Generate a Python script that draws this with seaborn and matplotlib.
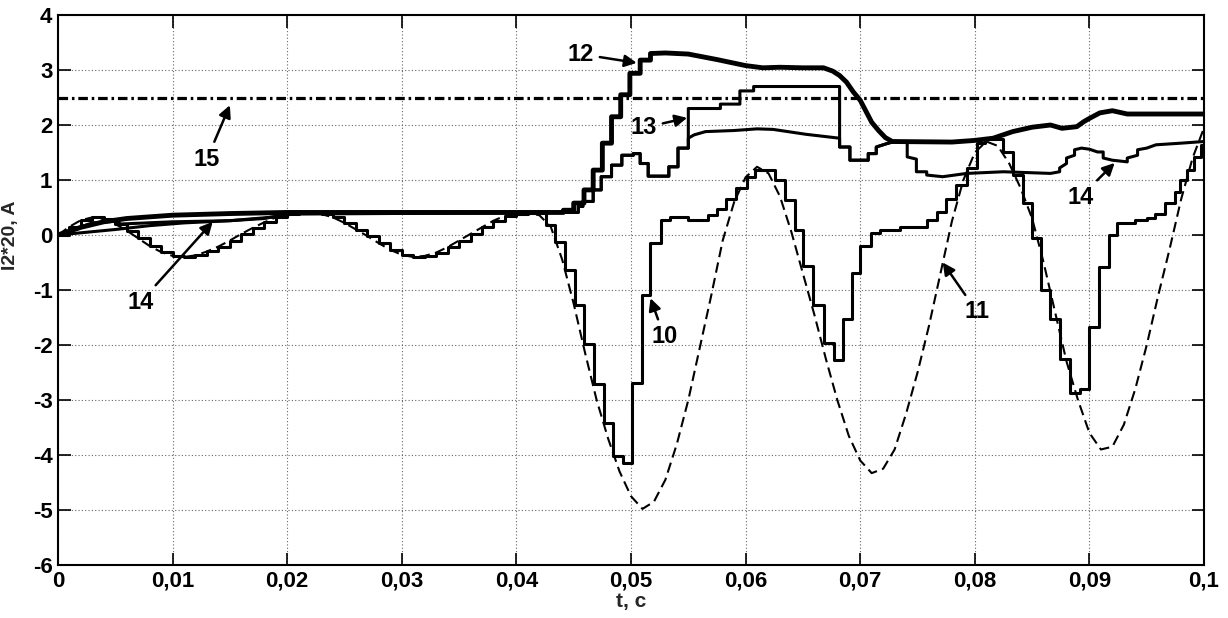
import numpy as np
import seaborn as sns
import matplotlib.pyplot as plt

sns.set_theme(style='ticks')
plt.rcParams['font.family'] = ['Liberation Sans', 'DejaVu Sans']
plt.rcParams['axes.unicode_minus'] = False

# curve 11 (dashed), sampled every 1 ms
t11 = np.linspace(0, 0.1, 101)
y11 = [0.00, 0.15, 0.27, 0.32, 0.29, 0.20, 0.08, -0.06, -0.20, -0.31,
       -0.38, -0.40, -0.37, -0.30, -0.21, -0.10, 0.02, 0.13, 0.23, 0.32,
       0.38, 0.40, 0.40, 0.38, 0.32, 0.22, 0.10, -0.02, -0.15, -0.27,
       -0.36, -0.40, -0.38, -0.32, -0.22, -0.10, 0.02, 0.14, 0.26, 0.35,
       0.39, 0.40, 0.36, 0.15, -0.45, -1.25, -2.15, -3.00, -3.70, -4.30,
       -4.75, -4.98, -4.85, -4.45, -3.80, -3.00, -2.05, -1.10, -0.10, 0.60,
       1.05, 1.24, 1.12, 0.70, 0.05, -0.70, -1.45, -2.25, -3.00, -3.65,
       -4.10, -4.33, -4.25, -3.90, -3.25, -2.50, -1.65, -0.70, 0.25, 1.00,
       1.50, 1.70, 1.62, 1.30, 0.85, 0.30, -0.50, -1.40, -2.30, -3.00,
       -3.60, -3.90, -3.85, -3.45, -2.80, -2.00, -1.10, -0.25, 0.65, 1.40,
       1.95]

# curve 10 (staircase) after it leaves curve 11
t10_late = [0.0419, 0.0426, 0.0434, 0.0442, 0.0451, 0.0459, 0.0468, 0.0476, 0.0484, 0.0493,
            0.0501, 0.0510, 0.0517, 0.0526, 0.0534, 0.0550, 0.0567, 0.0575, 0.0583, 0.0592,
            0.0601, 0.0608, 0.0626, 0.0634, 0.0643, 0.0650, 0.0659, 0.0668, 0.0677, 0.0685,
            0.0693, 0.0700, 0.0709, 0.0717, 0.0735, 0.0758, 0.0767, 0.0775, 0.0784, 0.0793,
            0.0802, 0.0809, 0.0825, 0.0833, 0.0842, 0.0850, 0.0858, 0.0866, 0.0874, 0.0883,
            0.0892, 0.0900, 0.0908, 0.0917, 0.0924, 0.0940, 0.0950, 0.0957, 0.0966, 0.0975,
            0.0979, 0.0985, 0.0991, 0.0997, 0.1000]
y10_late = [0.40, 0.18, -0.12, -0.64, -1.27, -1.98, -2.71, -3.42, -4.02, -4.15,
            -2.70, -1.09, -0.14, 0.27, 0.32, 0.28, 0.36, 0.47, 0.65, 0.85,
            1.06, 1.18, 1.00, 0.64, 0.09, -0.56, -1.27, -1.97, -2.27, -1.53,
            -0.70, -0.20, 0.03, 0.09, 0.15, 0.27, 0.42, 0.65, 0.91, 1.21,
            1.67, 1.74, 1.51, 1.09, 0.58, -0.06, -1.00, -1.53, -2.26, -2.88,
            -2.80, -1.67, -0.58, 0.00, 0.21, 0.27, 0.31, 0.39, 0.58, 0.79,
            1.00, 1.18, 1.42, 1.64, 1.70]

# curve 12 (thick)
t12 = [0, 0.002, 0.004, 0.006, 0.010, 0.015, 0.020, 0.0441,
       0.0441, 0.0450, 0.0450, 0.0459, 0.0459, 0.0467, 0.0467, 0.0475, 0.0475, 0.0483,
       0.0483, 0.0491, 0.0491, 0.0499, 0.0499, 0.0508, 0.0508, 0.0517, 0.0517,
       0.0530, 0.0550, 0.0575, 0.0600, 0.0615, 0.0630, 0.0650, 0.0668, 0.0676,
       0.0682, 0.0688, 0.0694, 0.0700, 0.0705, 0.0710, 0.0716, 0.0722, 0.0728,
       0.0780, 0.0800, 0.0816, 0.0833, 0.0850, 0.0866, 0.0876, 0.0889, 0.0895,
       0.0900, 0.0909, 0.0920, 0.0933, 0.1000]
y12 = [0, 0.14, 0.24, 0.30, 0.36, 0.39, 0.41, 0.41,
       0.45, 0.45, 0.58, 0.58, 0.82, 0.82, 1.18, 1.18, 1.67, 1.67,
       2.15, 2.15, 2.55, 2.55, 2.94, 2.94, 3.18, 3.18, 3.30,
       3.31, 3.29, 3.19, 3.08, 3.04, 3.05, 3.04, 3.04, 2.98,
       2.90, 2.78, 2.60, 2.45, 2.25, 2.05, 1.90, 1.77, 1.70,
       1.69, 1.72, 1.76, 1.88, 1.96, 2.00, 1.94, 1.97, 2.06,
       2.12, 2.22, 2.26, 2.20, 2.20]

# common stem of curves 13 and 14
stem_t = [0.0454, 0.0454, 0.0458, 0.0458, 0.0467, 0.0467, 0.0474, 0.0474, 0.0483, 0.0483,
          0.0492, 0.0492, 0.0502, 0.0502, 0.0508, 0.0508, 0.0515, 0.0515, 0.0533, 0.0533,
          0.0541, 0.0541, 0.0550]
stem_y = [0.41, 0.52, 0.52, 0.61, 0.61, 0.82, 0.82, 1.06, 1.06, 1.27,
          1.27, 1.45, 1.45, 1.48, 1.48, 1.30, 1.30, 1.07, 1.07, 1.24,
          1.24, 1.58, 1.58]

# curve 13
t13_early = [0, 0.002, 0.005, 0.008, 0.011, 0.015, 0.019, 0.021, 0.0445]
y13_early = [0, 0.04, 0.10, 0.17, 0.22, 0.26, 0.33, 0.40, 0.41]
t13_late = [0.0550, 0.0578, 0.0578, 0.0595, 0.0595, 0.0607, 0.0607, 0.0682, 0.0682, 0.0691,
            0.0691, 0.0707, 0.0707, 0.0714, 0.0714, 0.0723, 0.0728]
y13_late = [2.30, 2.30, 2.38, 2.38, 2.62, 2.62, 2.70, 2.70, 1.60, 1.60,
            1.36, 1.36, 1.48, 1.48, 1.60, 1.66, 1.69]

# curve 14
t14_early = [0, 0.003, 0.005, 0.0055, 0.010, 0.015, 0.018, 0.020, 0.0445]
y14_early = [0, 0.22, 0.25, 0.20, 0.24, 0.26, 0.30, 0.38, 0.41]
t14_late = [0.0550, 0.0555, 0.0565, 0.0590, 0.0610, 0.0624, 0.0653, 0.0682, 0.0682, 0.0691,
            0.0691, 0.0707, 0.0707, 0.0714, 0.0714, 0.0723, 0.0728, 0.0741, 0.0741, 0.0749,
            0.0749, 0.0758, 0.0758, 0.0772, 0.0793, 0.0825, 0.0866, 0.0874, 0.0874, 0.0880,
            0.0880, 0.0887, 0.0887, 0.0893, 0.0900, 0.0907, 0.0912, 0.0912, 0.0920, 0.0933,
            0.0933, 0.0942, 0.0942, 0.0950, 0.0958, 0.0980, 0.1000]
y14_late = [1.76, 1.82, 1.88, 1.90, 1.93, 1.92, 1.83, 1.76, 1.60, 1.60,
            1.36, 1.36, 1.48, 1.48, 1.60, 1.66, 1.69, 1.69, 1.42, 1.38,
            1.15, 1.15, 1.09, 1.06, 1.12, 1.15, 1.12, 1.15, 1.22, 1.30,
            1.40, 1.45, 1.55, 1.58, 1.56, 1.51, 1.51, 1.40, 1.36, 1.33,
            1.40, 1.45, 1.55, 1.58, 1.64, 1.67, 1.70]

# curve 15 (limit level)
t15 = [0.0, 0.1]
y15 = [2.5, 2.5]

# callouts: label, arrow tip (t, y), text centre (t, y)
labels = ['12', '13', '15', '14', '14', '10', '11']
tips = [(0.0505, 3.13), (0.0549, 2.13), (0.0150, 2.36), (0.0135, 0.24),
        (0.0922, 1.31), (0.0517, -1.15), (0.0772, -0.50)]
texts = [(0.0456, 3.29), (0.0511, 1.95), (0.0130, 1.38), (0.0072, -1.22),
         (0.0892, 0.69), (0.0529, -1.85), (0.0802, -1.40)]

xticks = [0, 0.01, 0.02, 0.03, 0.04, 0.05, 0.06, 0.07, 0.08, 0.09, 0.1]
xtick_labels = ['0', '0,01', '0,02', '0,03', '0,04', '0,05', '0,06', '0,07', '0,08', '0,09', '0,1']
yticks = [-6, -5, -4, -3, -2, -1, 0, 1, 2, 3, 4]

fig = plt.figure(figsize=(12.28, 6.18), dpi=100)
ax = fig.add_axes([0.0472, 0.0858, 0.9333, 0.8899])

common = dict(ax=ax, color='black', sort=False, estimator=None, errorbar=None)

sns.lineplot(x=t15, y=y15, linewidth=2.3, linestyle=(0, (3, 1.2, 0.8, 1.2)), **common)
sns.lineplot(x=t11, y=y11, linewidth=1.5, linestyle=(0, (5, 2.6)), **common)

t10 = list(t11[:42]) + t10_late
y10 = list(y11[:42]) + y10_late
sns.lineplot(x=t10, y=y10, linewidth=2.2, drawstyle='steps-post', **common)

sns.lineplot(x=t14_early + stem_t + t14_late, y=y14_early + stem_y + y14_late,
             linewidth=2.2, **common)
sns.lineplot(x=t13_early + stem_t + t13_late, y=y13_early + stem_y + y13_late,
             linewidth=2.2, **common)
sns.lineplot(x=t12, y=y12, linewidth=3.5, **common)

for lab, tip, txt in zip(labels, tips, texts):
    ax.annotate(lab, xy=tip, xytext=txt, ha='center', va='center',
                fontsize=17, fontweight='bold', color='black',
                arrowprops=dict(arrowstyle='-|>', color='black', lw=1.8,
                                mutation_scale=18, shrinkA=2, shrinkB=0))

ax.set_xlim(0, 0.1)
ax.set_ylim(-6, 4)
ax.set_xticks(xticks)
ax.set_xticklabels(xtick_labels)
ax.set_yticks(yticks)
ax.grid(True, linestyle=(0, (1, 2)), color='0.4', linewidth=0.8)
ax.tick_params(direction='in', length=9, width=1.2, top=True, right=True,
               labelsize=16, pad=4, colors='black')
for lbl in ax.get_xticklabels() + ax.get_yticklabels():
    lbl.set_fontweight('bold')
for sp in ax.spines.values():
    sp.set_visible(True)
    sp.set_color('black')
    sp.set_linewidth(1.5)

ax.set_xlabel('t, c', fontsize=15, fontweight='bold', labelpad=0)
ax.set_ylabel('I2*20, A', fontsize=14, fontweight='bold')
ax.yaxis.set_label_coords(-0.034, 0.6)

fig.savefig('out.png', dpi=100, facecolor='white')
